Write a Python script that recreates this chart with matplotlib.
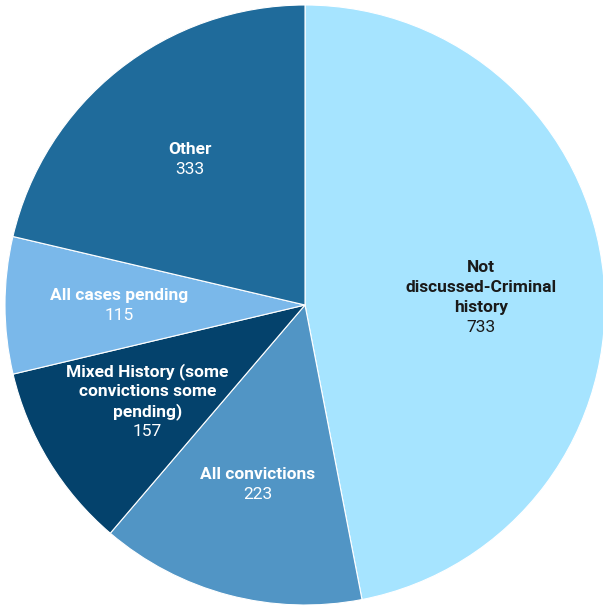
import numpy as np
import matplotlib
matplotlib.use("Agg")
import matplotlib.pyplot as plt

# Data
categories = ["Not discussed-Criminal history", "All convictions",
              "Mixed History (some convictions some pending)",
              "All cases pending", "Other"]
wrapped = ["Not\ndiscussed-Criminal\nhistory", "All convictions",
           "Mixed History (some\nconvictions some\npending)",
           "All cases pending", "Other"]
counts = [733, 223, 157, 115, 333]
colors = ["#a6e4ff", "#5195c5", "#04426c", "#7ab8ea", "#1f6b9b"]
text_colors = ["#1a1a1a", "white", "white", "white", "white"]
label_r = [0.59, 0.62, 0.615, 0.62, 0.62]
label_dy = [-0.032, 0, 0, 0, 0]

plt.rcParams["font.family"] = ["Roboto", "DejaVu Sans"]

fig = plt.figure(figsize=(6.03, 6.08), dpi=100)
ax = fig.add_axes([5 / 603, 3 / 608, 600 / 603, 600 / 608])

wedges, _ = ax.pie(counts, colors=colors, startangle=90, counterclock=False,
                   radius=1.0, wedgeprops=dict(edgecolor="white", linewidth=0.8))
ax.set_xlim(-1, 1)
ax.set_ylim(-1, 1)
ax.set_aspect("equal")

lh = 20 / 300  # line height in data units (radius = 300 px)
fs = 12.5
for w, name, val, tc, r, dy in zip(wedges, wrapped, counts, text_colors,
                                   label_r, label_dy):
    mid = np.deg2rad((w.theta1 + w.theta2) / 2)
    cx, cy = r * np.cos(mid), r * np.sin(mid) + dy
    lines = name.split("\n")
    n = len(lines) + 1
    top = cy + (n - 1) / 2 * lh
    for i, ln in enumerate(lines):
        ax.text(cx, top - i * lh, ln, ha="center", va="center", fontsize=fs,
                fontweight="bold", color=tc)
    ax.text(cx, top - len(lines) * lh, str(val), ha="center", va="center",
            fontsize=fs, color=tc)

fig.savefig("out.png", dpi=100)
